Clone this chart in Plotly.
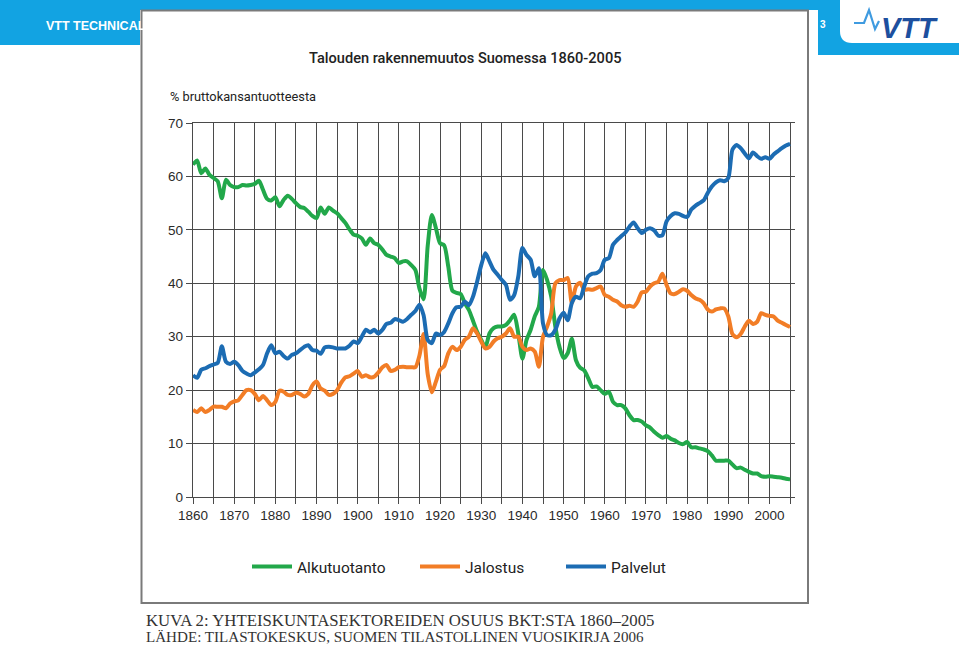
import plotly.graph_objects as go

# ---------------- data ----------------
years = list(range(1860, 2006))

alkutuotanto = [
    62.2, 63.0, 60.6, 61.5, 60.3, 59.7, 59.1, 55.9, 59.4, 58.4,   # 1860-69
    58.0, 58.0, 58.4, 58.3, 58.4, 58.6, 59.2, 57.5, 55.8, 55.5,   # 1870-79
    56.1, 54.4, 55.6, 56.4, 55.8, 55.0, 54.3, 54.1, 53.4, 52.6,   # 1880-89
    52.2, 54.2, 53.0, 54.2, 53.6, 53.1, 52.2, 51.3, 50.1, 49.1,   # 1890-99
    48.9, 48.4, 47.2, 48.4, 47.5, 47.2, 46.3, 45.3, 45.0, 44.7,   # 1900-09
    43.8, 44.1, 44.1, 43.4, 42.5, 39.0, 37.0, 47.0, 52.8, 50.3,   # 1910-19
    47.5, 47.1, 43.1, 38.6, 38.2, 38.0, 36.3, 35.0, 33.0, 30.9,   # 1920-29
    29.4, 28.0, 30.6, 31.6, 31.9, 31.9, 32.2, 33.1, 34.1, 30.6,   # 1930-39
    25.9, 29.4, 31.3, 33.8, 35.6, 42.5, 40.6, 37.5, 31.9, 28.1,   # 1940-49
    26.0, 26.9, 29.6, 25.6, 24.2, 23.7, 22.2, 20.6, 20.7, 20.0,   # 1950-59
    19.3, 19.7, 17.8, 17.2, 17.2, 16.6, 15.3, 14.4, 14.4, 14.1,   # 1960-69
    13.4, 13.0, 12.2, 11.6, 11.1, 11.4, 10.9, 10.6, 10.1, 9.9,    # 1970-79
    10.3, 9.3, 9.3, 9.1, 8.9, 8.6, 7.8, 6.8, 6.8, 6.8,            # 1980-89
    6.8, 6.1, 5.4, 5.5, 5.1, 4.7, 4.4, 4.4, 3.9, 3.8,             # 1990-99
    3.9, 3.8, 3.7, 3.6, 3.4, 3.3,                                 # 2000-05
]

jalostus = [
    16.3, 15.9, 16.6, 15.9, 16.3, 16.9, 16.9, 16.9, 16.6, 17.5,   # 1860-69
    17.9, 18.1, 19.1, 20.0, 20.0, 19.3, 18.1, 18.9, 18.1, 17.2,   # 1870-79
    17.8, 19.9, 19.7, 19.1, 19.1, 19.5, 19.3, 18.8, 19.3, 20.9,   # 1880-89
    21.6, 20.3, 19.9, 19.1, 19.3, 20.0, 21.4, 22.4, 22.6, 23.1,   # 1890-99
    23.6, 22.5, 22.8, 22.4, 22.5, 23.3, 24.3, 24.7, 23.6, 23.8,   # 1900-09
    24.3, 24.4, 24.3, 24.3, 24.3, 26.5, 30.5, 23.0, 19.6, 21.6,   # 1910-19
    23.8, 24.5, 26.9, 28.1, 27.5, 28.1, 29.4, 30.0, 31.6, 30.6,   # 1920-29
    29.1, 27.8, 28.1, 29.1, 29.7, 30.0, 30.6, 31.6, 30.0, 30.0,   # 1930-39
    28.1, 27.5, 27.8, 27.2, 24.4, 30.0, 31.9, 34.4, 40.0, 40.6,   # 1940-49
    40.6, 41.0, 36.3, 39.4, 40.1, 38.8, 38.9, 38.8, 39.1, 39.4,   # 1950-59
    37.8, 37.5, 36.9, 36.6, 35.9, 35.6, 35.8, 35.6, 36.6, 38.3,   # 1960-69
    38.4, 39.4, 40.0, 40.3, 41.8, 39.7, 38.1, 38.0, 38.4, 38.9,   # 1970-79
    38.6, 37.8, 37.2, 36.9, 36.3, 35.1, 34.7, 35.1, 35.3, 35.3,   # 1980-89
    33.8, 30.5, 29.9, 30.5, 31.9, 33.0, 32.4, 32.8, 34.4, 34.1,   # 1990-99
    33.9, 33.8, 33.0, 32.6, 32.2, 31.8,                           # 2000-05
]

palvelut = [
    22.8, 22.3, 23.8, 24.1, 24.5, 24.8, 25.1, 28.2, 25.3, 24.9,   # 1860-69
    25.3, 24.7, 23.6, 23.1, 22.8, 23.3, 23.9, 24.7, 26.9, 28.4,   # 1870-79
    26.9, 27.2, 26.4, 25.9, 26.6, 26.9, 27.5, 28.1, 28.4, 27.5,   # 1880-89
    27.4, 26.8, 28.0, 28.1, 28.0, 27.8, 27.8, 27.8, 28.3, 29.1,   # 1890-99
    28.8, 30.0, 31.3, 30.8, 31.3, 30.6, 31.3, 32.4, 32.6, 33.3,   # 1900-09
    33.1, 32.8, 33.3, 34.1, 34.8, 36.0, 34.0, 29.4, 28.8, 30.6,   # 1910-19
    30.3, 30.9, 32.5, 34.4, 35.5, 35.6, 36.6, 35.9, 37.5, 40.3,   # 1920-29
    43.4, 45.6, 44.1, 42.5, 41.6, 40.6, 39.7, 36.9, 37.8, 41.3,   # 1930-39
    46.6, 45.3, 44.4, 41.3, 42.8, 32.5, 30.3, 30.3, 31.3, 33.4,   # 1940-49
    34.5, 33.1, 36.3, 37.5, 37.2, 39.4, 41.3, 41.8, 41.9, 42.5,   # 1950-59
    44.4, 44.7, 47.2, 48.1, 48.8, 49.5, 50.6, 51.4, 50.3, 49.4,   # 1960-69
    50.0, 50.3, 49.9, 48.9, 49.0, 51.6, 52.6, 53.1, 53.0, 52.6,   # 1970-79
    52.4, 53.8, 54.5, 55.0, 55.5, 56.9, 58.1, 58.9, 59.3, 59.1,   # 1980-89
    59.7, 65.0, 65.9, 65.3, 64.3, 63.4, 64.5, 63.8, 63.3, 63.6,   # 1990-99
    63.3, 64.1, 64.7, 65.3, 65.8, 66.1,                           # 2000-05
]

series_names = ["Alkutuotanto", "Jalostus", "Palvelut"]
x_tick_labels = [str(y) for y in range(1860, 2001, 10)]
y_tick_values = [0, 10, 20, 30, 40, 50, 60, 70]

title_text = "Talouden rakennemuutos Suomessa 1860-2005"
unit_text = "% bruttokansantuotteesta"
caption1 = "KUVA 2: YHTEISKUNTASEKTOREIDEN OSUUS BKT:STA 1860–2005"
caption2 = "LÄHDE: TILASTOKESKUS, SUOMEN TILASTOLLINEN VUOSIKIRJA 2006"
header_text = "VTT TECHNICAL"

# ---------------- styling ----------------
GREEN = "#22a84a"
ORANGE = "#f27d26"
BLUE = "#1c6cb3"
GRID = "#4a4a4a"
HEADER_BLUE = "#12a3e2"
NARROW = "Roboto, Liberation Sans, Arial, sans-serif"

W, H = 959, 645
L, R, T, B = 193, 164, 123, 148
PW = W - L - R
PH = H - T - B


def fx(p):
    return (p - L) / PW


def fy(p):
    return (H - B - p) / PH


fig = go.Figure()
for name, vals, col, lg in [
    (series_names[0], alkutuotanto, GREEN, "legend"),
    (series_names[1], jalostus, ORANGE, "legend2"),
    (series_names[2], palvelut, BLUE, "legend3"),
]:
    fig.add_trace(go.Scatter(
        x=years, y=vals, mode="lines", name=name, legend=lg,
        line=dict(color=col, width=4, shape="spline", smoothing=0.7),
        hoverinfo="x+y+name",
    ))

legend_common = dict(
    orientation="h", xanchor="left", yanchor="middle",
    bgcolor="rgba(0,0,0,0)", borderwidth=0, itemwidth=40,
    font=dict(family=NARROW, size=15.5, color="#222"),
)

shapes = []
# blue header
shapes.append(dict(type="rect", xref="paper", yref="paper", layer="below",
                   x0=fx(0), x1=fx(W), y0=fy(0), y1=fy(55),
                   fillcolor=HEADER_BLUE, line=dict(width=0)))
# white content area
shapes.append(dict(type="rect", xref="paper", yref="paper", layer="below",
                   x0=fx(0), x1=fx(818), y0=fy(45), y1=fy(H),
                   fillcolor="white", line=dict(width=0)))
shapes.append(dict(type="rect", xref="paper", yref="paper", layer="below",
                   x0=fx(140), x1=fx(818), y0=fy(10), y1=fy(H),
                   fillcolor="white", line=dict(width=0)))
# white logo box with rounded bottom-left corner
r = 12
path = (f"M {fx(840)},{fy(0)} L {fx(W)},{fy(0)} L {fx(W)},{fy(43)} "
        f"L {fx(840 + r)},{fy(43)} Q {fx(840)},{fy(43)} {fx(840)},{fy(43 - r)} Z")
shapes.append(dict(type="path", xref="paper", yref="paper", layer="below",
                   path=path, fillcolor="white", line=dict(width=0)))
# embedded chart image frame
shapes.append(dict(type="rect", xref="paper", yref="paper", layer="below",
                   x0=fx(141.5), x1=fx(808), y0=fy(10.5), y1=fy(603),
                   fillcolor="white", line=dict(color="#7a7a7a", width=2)))
# logo wave
wave = (f"M {fx(854)},{fy(23)} L {fx(864)},{fy(23)} L {fx(869)},{fy(10)} "
        f"L {fx(875)},{fy(29)} L {fx(879)},{fy(21)}")
shapes.append(dict(type="path", xref="paper", yref="paper", layer="above",
                   path=wave, line=dict(color="#3f9be0", width=2.2)))

annotations = [
    dict(text=title_text, x=fx(465), y=fy(58), xref="paper", yref="paper",
         xanchor="center", yanchor="middle", showarrow=False,
         font=dict(family=NARROW, size=14.6, weight=500, color="#222")),
    dict(text=unit_text, x=fx(168), y=fy(97), xref="paper", yref="paper",
         xanchor="left", yanchor="middle", showarrow=False,
         font=dict(family=NARROW, size=12.8, color="#222")),
    dict(text=caption1, x=fx(144), y=fy(620), xref="paper", yref="paper",
         xanchor="left", yanchor="middle", showarrow=False,
         font=dict(family="Liberation Serif, Times New Roman, serif", size=16.8, color="#333")),
    dict(text=caption2, x=fx(144), y=fy(637), xref="paper", yref="paper",
         xanchor="left", yanchor="middle", showarrow=False,
         font=dict(family="Liberation Serif, Times New Roman, serif", size=15.1, color="#333")),
    dict(text="<b>" + header_text + "</b>", x=fx(44), y=fy(26), xref="paper", yref="paper",
         xanchor="left", yanchor="middle", showarrow=False,
         font=dict(family="Liberation Sans, Arial, sans-serif", size=12.5, color="white")),
    dict(text="<b>3</b>", x=fx(823), y=fy(24), xref="paper", yref="paper",
         xanchor="center", yanchor="middle", showarrow=False,
         font=dict(family="Liberation Sans, Arial, sans-serif", size=10, color="white")),
    dict(text="<b><i>VTT</i></b>", x=fx(909), y=fy(28), xref="paper", yref="paper",
         xanchor="center", yanchor="middle", showarrow=False,
         font=dict(family="Liberation Sans, Arial, sans-serif", size=29, color="#1d4f9e")),
]

fig.update_layout(
    width=W, height=H,
    margin=dict(l=L, r=R, t=T, b=B, pad=0),
    paper_bgcolor="white", plot_bgcolor="white",
    showlegend=True,
    legend=dict(x=fx(247), y=fy(567), **legend_common),
    legend2=dict(x=fx(415), y=fy(567), **legend_common),
    legend3=dict(x=fx(561), y=fy(567), **legend_common),
    shapes=shapes,
    annotations=annotations,
    font=dict(family="Liberation Sans, Arial, sans-serif", size=13, color="#333"),
)

fig.update_xaxes(
    range=[1860, 2006.2], autorange=False, automargin=False,
    tickmode="array", tickvals=[int(t) for t in x_tick_labels], ticktext=x_tick_labels,
    ticks="outside", ticklen=6, tickwidth=1.4, tickcolor=GRID,
    showgrid=True, gridcolor=GRID, gridwidth=1.4,
    minor=dict(tick0=1860, dtick=5, showgrid=True, gridcolor=GRID, gridwidth=1.4,
               ticks="outside", ticklen=6, tickwidth=1.4, tickcolor=GRID),
    showline=True, linecolor=GRID, linewidth=1.4, mirror=True,
    zeroline=False, tickfont=dict(size=13.5, color="#2a2a2a"),
)
fig.update_yaxes(
    range=[0, 70], autorange=False, automargin=False,
    tickmode="array", tickvals=y_tick_values,
    ticks="outside", ticklen=6, tickwidth=1.4, tickcolor=GRID,
    showgrid=True, gridcolor=GRID, gridwidth=1.4,
    showline=True, linecolor=GRID, linewidth=1.4, mirror=False,
    zeroline=False, tickfont=dict(size=13.5, color="#2a2a2a"),
)

fig.write_html("out.html")
